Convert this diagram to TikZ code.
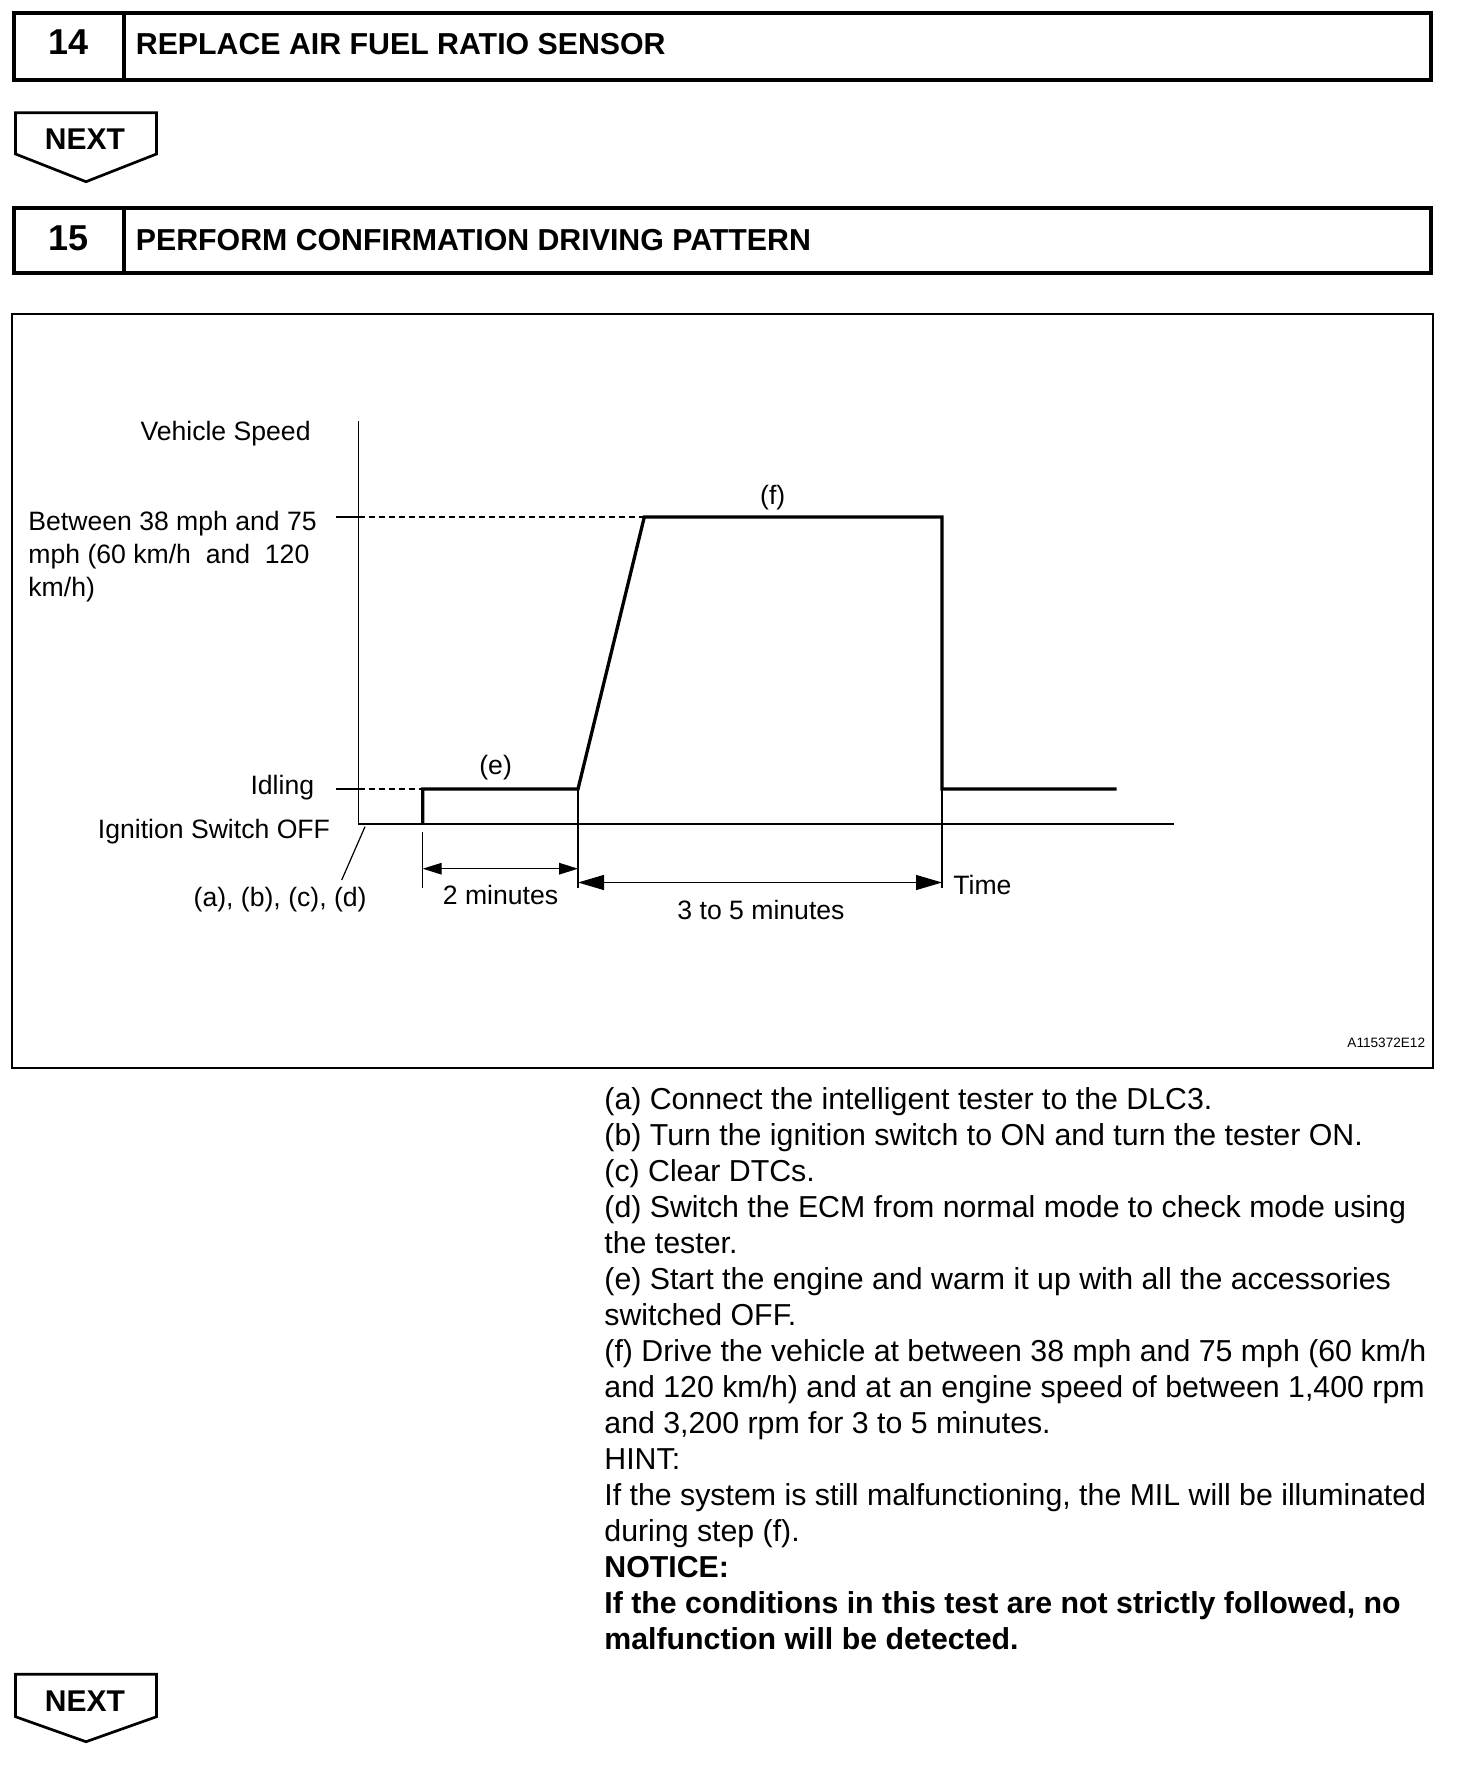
\documentclass[tikz,border=0pt]{standalone}
\usepackage{fontspec}
\setmainfont{Liberation Sans}
\usetikzlibrary{arrows.meta}

\tikzset{
  boxline/.style={line width=2pt},
  nextline/.style={line width=1.35pt, line join=miter},
  thinline/.style={line width=0.6pt},
  speedline/.style={line width=1.65pt, line join=miter},
  levelline/.style={line width=0.6pt, dash pattern=on 3pt off 2pt},
  lbl/.style={inner sep=0pt, font=\fontsize{13.3}{14}\selectfont},
  steptxt/.style={inner sep=0pt, anchor=base west, font=\fontsize{15.15}{18}\selectfont},
  hdrnum/.style={inner sep=0pt, anchor=base, font=\fontsize{18}{20}\selectfont\bfseries},
  hdrtxt/.style={inner sep=0pt, anchor=base west, font=\fontsize{15.15}{18}\selectfont\bfseries},
  nexttxt/.style={inner sep=0pt, anchor=base, font=\fontsize{15}{18}\selectfont\bfseries},
  shortdim/.style={thinline, {Triangle[length=9.5pt,width=5.8pt]}-{Triangle[length=9.5pt,width=5.8pt]}},
  longdim/.style={thinline, {Triangle[length=13pt,width=7.5pt]}-{Triangle[length=13pt,width=7.5pt]}},
}

\begin{document}
\begin{tikzpicture}[x=0.5pt,y=-0.5pt]
\useasboundingbox (0,0) rectangle (1472,1786);

% Step headers
\draw[boxline] (14,13) rectangle (1431,80);
\draw[boxline] (124,13) -- (124,80);
\node[hdrnum] (num14) at (69,55) {14};
\node[hdrtxt] (title14) at (135.5,55) {REPLACE AIR FUEL RATIO SENSOR};

\draw[boxline] (14,208) rectangle (1431,273.3);
\draw[boxline] (124,208) -- (124,273.3);
\node[hdrnum] (num15) at (69,250.3) {15};
\node[hdrtxt] (title15) at (135.5,250.3) {PERFORM CONFIRMATION DRIVING PATTERN};

% NEXT markers
\draw[nextline] (15.5,112.7) -- (156.5,112.7) -- (156.5,154) -- (86,181.7) -- (15.5,154) -- cycle;
\node[nexttxt] (next1) at (85,150) {NEXT};
\draw[nextline] (15.5,1674.3) -- (156.5,1674.3) -- (156.5,1716.7) -- (86,1741.7) -- (15.5,1716.7) -- cycle;
\node[nexttxt] (next2) at (85,1711.7) {NEXT};

% Chart frame
\draw[line width=1pt] (11.5,314.5) rectangle (1433.3,1068.3);
\node[inner sep=0pt, anchor=base east, font=\fontsize{6.8}{8}\selectfont] (figid) at (1425.5,1047.3) {A115372E12};

% Axes
\coordinate (o) at (358.5,824);
\coordinate (ytop) at (358.5,421.5);
\coordinate (xend) at (1174,824);
\draw[thinline] (ytop) -- (o) -- (xend);

% Speed pattern
\coordinate (s0) at (422.7,824);
\coordinate (s1) at (422.7,789);
\coordinate (s2) at (578,789);
\coordinate (s3) at (644.3,517);
\coordinate (s4) at (942,517);
\coordinate (s5) at (942,789);
\coordinate (s6) at (1116.7,789);
\draw[speedline] (s0) -- (s1) -- (s2) -- (s3) -- (s4) -- (s5) -- (s6);

% Speed levels
\coordinate (hitick) at (336,517);
\coordinate (idtick) at (336,789);
\draw[thinline] (hitick) -- (o |- s3);
\draw[levelline] (o |- s3) -- (s3);
\draw[thinline] (idtick) -- (o |- s1);
\draw[levelline] (o |- s1) -- (s1);

% Time marks
\coordinate (t1) at (422.7,831.7);
\coordinate (t1b) at (422.7,888);
\coordinate (t2b) at (578,888);
\coordinate (t3b) at (942,888);
\draw[thinline] (t1) -- (t1b);
\draw[thinline] (s2) -- (t2b);
\draw[thinline] (s5) -- (t3b);
\coordinate (a1) at (422.7,868.7);
\coordinate (a2) at (578,868.7);
\coordinate (b1) at (578,882.5);
\coordinate (b2) at (942,882.5);
\draw[shortdim] (a1) -- (a2);
\draw[longdim] (b1) -- (b2);

% Leader to start point
\coordinate (lda) at (365,826.7);
\coordinate (ldb) at (341.7,880);
\draw[thinline] (lda) -- (ldb);

% Labels
\node[lbl, anchor=base east] (vspeed) at (311,441) {Vehicle Speed};
\node[lbl, anchor=base west, align=left, font=\fontsize{13.3}{16.5}\selectfont] (hispeed) at (28,596)
  {Between 38 mph and 75\\mph (60 km/h\ \ and\ \ 120\\km/h)};
\node[lbl, anchor=base east] (idle) at (314.5,794) {Idling};
\node[lbl, anchor=base east] (ignoff) at (330.4,838) {Ignition Switch OFF};
\node[lbl, anchor=base east] (abcd) at (367,906) {(a), (b), (c), (d)};
\node[lbl, anchor=base] (twomin) at (500.5,904) {2 minutes};
\node[lbl, anchor=base] (threemin) at (761,919) {3 to 5 minutes};
\node[lbl, anchor=base] (stepe) at (495.6,774) {(e)};
\node[lbl, anchor=base] (stepf) at (772.7,504) {(f)};
\node[lbl, anchor=base west] (time) at (953,894.3) {Time};

% Procedure text
\foreach \txt [count=\n] in {
  {(a) Connect the intelligent tester to the DLC3.},
  {(b) Turn the ignition switch to ON and turn the tester ON.},
  {(c) Clear DTCs.},
  {(d) Switch the ECM from normal mode to check mode using},
  {the tester.},
  {(e) Start the engine and warm it up with all the accessories},
  {switched OFF.},
  {(f) Drive the vehicle at between 38 mph and 75 mph (60 km/h},
  {and 120 km/h) and at an engine speed of between 1,400 rpm},
  {and 3,200 rpm for 3 to 5 minutes.},
  {HINT:},
  {If the system is still malfunctioning, the MIL will be illuminated},
  {during step (f).},
  {\bfseries NOTICE:},
  {\bfseries If the conditions in this test are not strictly followed, no},
  {\bfseries malfunction will be detected.}}
  \node[steptxt] (line\n) at (604,{1109+36.05*(\n-1)}) {\txt};
\end{tikzpicture}
\end{document}
